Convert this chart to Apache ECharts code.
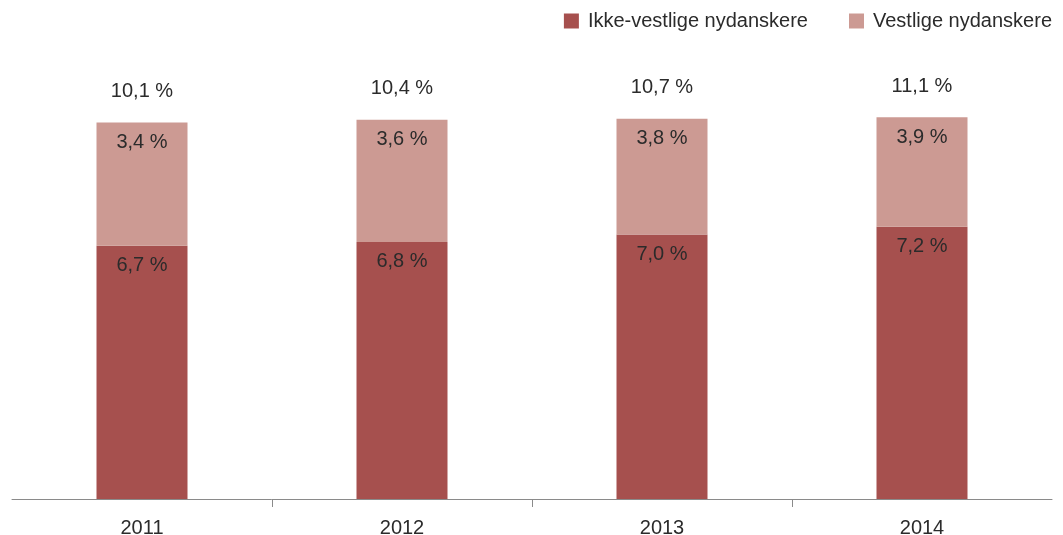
<!doctype html>
<html>
<head>
<meta charset="utf-8">
<script src="https://cdn.jsdelivr.net/npm/echarts@6/dist/echarts.min.js"></script>
<style>
* { margin: 0px; padding: 0px; }
#chart { width: 1063px; height: 535px; }
</style>
</head>
<body>
<div id="chart"></div>
<script>
// år
var years = ['2011', '2012', '2013', '2014'];
// søjlehøjder
var ikkeVestlige = [6.7, 6.8, 7.0, 7.2];
var vestlige = [3.26, 3.23, 3.06, 2.90];
// tekster på søjlerne
var ikkeVestligeLabels = ['6,7 %', '6,8 %', '7,0 %', '7,2 %'];
var vestligeLabels = ['3,4 %', '3,6 %', '3,8 %', '3,9 %'];
var totalLabels = ['10,1 %', '10,4 %', '10,7 %', '11,1 %'];
var zeros = [0, 0, 0, 0];

var font = 'Liberation Sans, Arial, sans-serif';
var txt = '#2b2b2b';

var myChart = echarts.init(document.getElementById('chart'));

var option = {
	animation: false,
	grid: { left: 12, right: 11, top: 45.4, bottom: 36, outerBoundsMode: 'none', containLabel: false },
	legend: {
		data: ['Ikke-vestlige nydanskere', 'Vestlige nydanskere'],
		right: 6,
		top: 6,
		itemWidth: 15,
		itemHeight: 15,
		itemGap: 41,
		icon: 'rect',
		textStyle: { color: txt, fontSize: 20, fontFamily: font, padding: [0, 0, 0, 4] }
	},
	xAxis: [{
		type: 'category',
		data: years,
		axisLine: { lineStyle: { color: '#8a8a8a', width: 1 } },
		axisTick: { show: false },
		axisLabel: { color: txt, fontSize: 20, fontFamily: font, margin: 19 }
	}, {
		// kun til skillestregerne mellem årene
		type: 'value',
		min: 0,
		max: 4,
		interval: 1,
		position: 'bottom',
		axisLine: { show: false },
		splitLine: { show: false },
		axisLabel: { show: false },
		axisTick: { show: true, customValues: [1, 2, 3], length: 8, lineStyle: { color: '#8a8a8a' } }
	}],
	yAxis: {
		type: 'value',
		min: 0,
		max: 12,
		show: false
	},
	series: [
		{
			name: 'Ikke-vestlige nydanskere',
			type: 'bar',
			stack: 'a',
			barWidth: '35%',
			itemStyle: { color: '#a6504e' },
			data: ikkeVestlige,
			label: {
				show: true,
				position: 'insideTop',
				distance: 10,
				color: txt,
				fontSize: 20,
				fontFamily: font,
				formatter: function (p) { return ikkeVestligeLabels[p.dataIndex]; }
			}
		},
		{
			name: 'Vestlige nydanskere',
			type: 'bar',
			stack: 'a',
			itemStyle: { color: '#cc9a93' },
			data: vestlige,
			label: {
				show: true,
				position: 'insideTop',
				distance: 10,
				color: txt,
				fontSize: 20,
				fontFamily: font,
				formatter: function (p) { return vestligeLabels[p.dataIndex]; }
			}
		},
		{
			name: 'total',
			type: 'bar',
			stack: 'a',
			data: zeros,
			itemStyle: { color: 'transparent' },
			label: {
				show: true,
				position: 'top',
				distance: 21,
				color: txt,
				fontSize: 20,
				fontFamily: font,
				formatter: function (p) { return totalLabels[p.dataIndex]; }
			}
		}
	]
};

myChart.setOption(option);
</script>
</body>
</html>
